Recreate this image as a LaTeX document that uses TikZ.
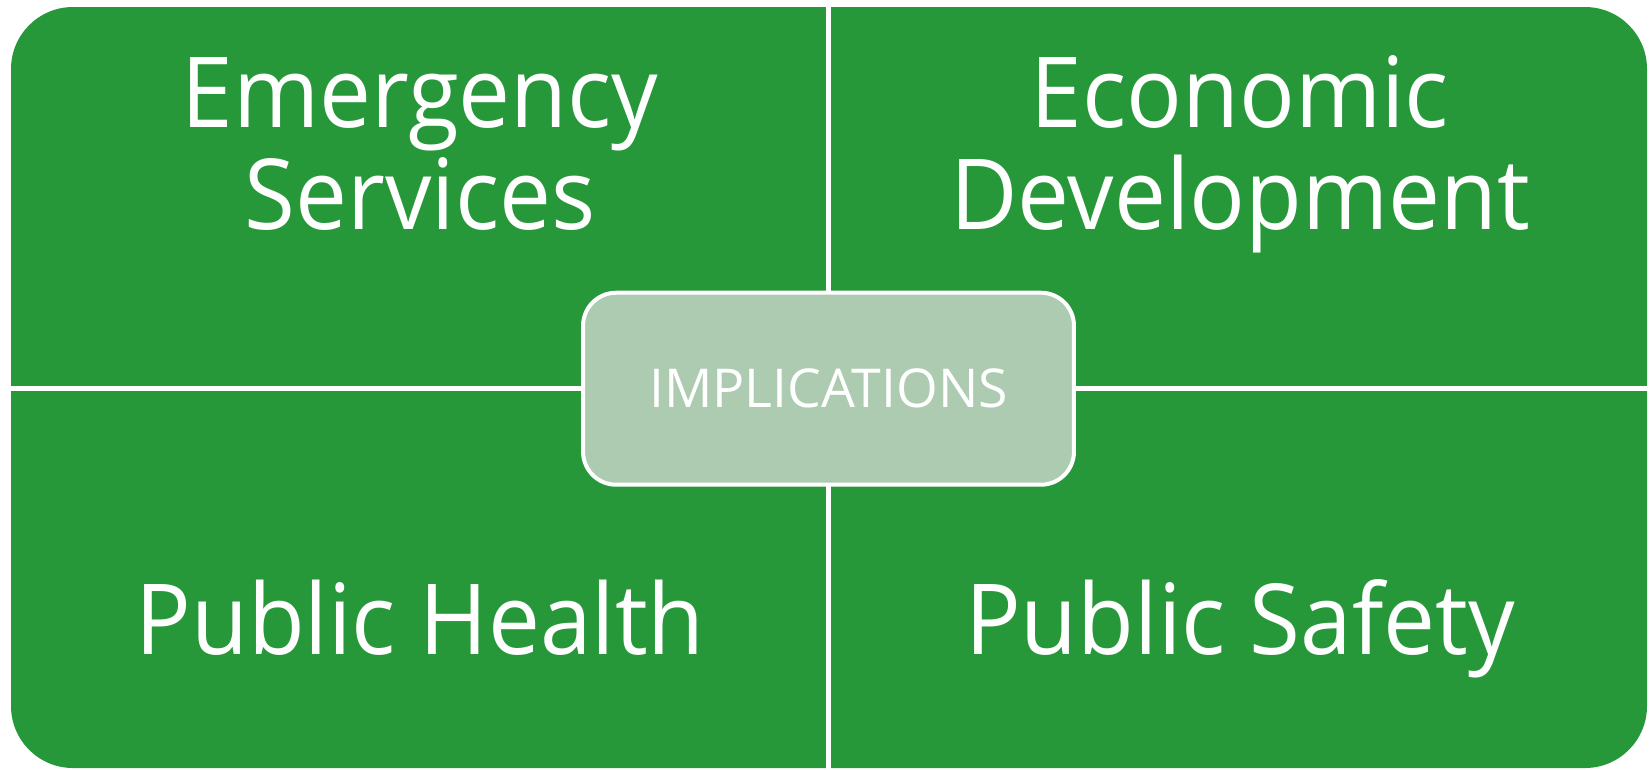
\documentclass[tikz,border=0pt]{standalone}
\usepackage{xcolor}
\usepackage{fontspec}
\usepackage{tikz}
\setmainfont{Open Sans}
\newfontfamily\quadfont[FakeStretch=0.945]{Open Sans}
\definecolor{panelcolor}{HTML}{27983A}
\definecolor{hubcolor}{HTML}{ADCBB0}

\begin{document}
\begin{tikzpicture}[x=0.02cm, y=-0.02cm,
  panel/.style={fill=panelcolor, rounded corners=1.24cm},
  gap/.style={draw=white, line width=0.094cm},
  label/.style={text=white, align=center, inner sep=0pt, anchor=base, font=\quadfont\fontsize{55.8pt}{58pt}\selectfont}]%
\useasboundingbox (0,0) rectangle (1649,769);%
\fill[panel] (11,7) rectangle (1647,768);%
\coordinate (top) at (828.7,0);%
\coordinate (bottom) at (828.7,769);%
\coordinate (left) at (0,388.3);%
\coordinate (right) at (1649,388.3);%
\draw[gap] (top) -- (bottom);%
\draw[gap] (left) -- (right);%
\node[draw=white, line width=0.08cm, fill=hubcolor, rounded corners=0.66cm, minimum width=9.82cm, minimum height=3.84cm, text=white, font=\fontsize{30.5pt}{36pt}\selectfont] (hub) at (828.5,388.7) {IMPLICATIONS};%
\node[label] (emergency) at (420,229) {Emergency\\Services};%
\node[label] (economic) at (1240,229) {Economic\\Development};%
\node[label] (health) at (420,654) {Public Health};%
\node[label] (safety) at (1240,654) {Public Safety};%
\end{tikzpicture}
\end{document}
